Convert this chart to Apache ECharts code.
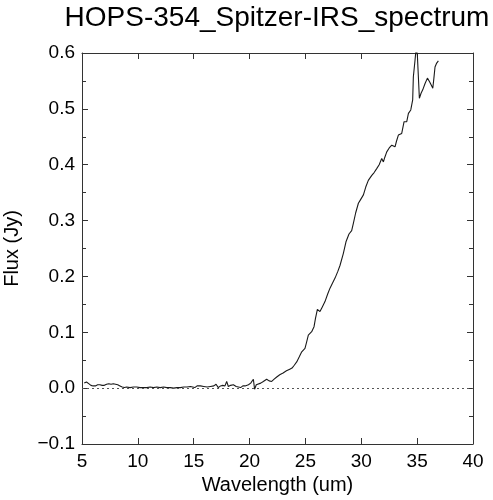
<!DOCTYPE html>
<html>
<head>
<meta charset="utf-8">
<title>HOPS-354 Spitzer IRS spectrum</title>
<script src="https://cdn.jsdelivr.net/npm/echarts@6/dist/echarts.min.js"></script>
<style>
  html, body { margin: 0; padding: 0; background: #fff; }
  #chart { width: 493px; height: 500px; }
</style>
</head>
<body>
<div id="chart"></div>
<script>
// wavelength in um, flux in Jy
const wavelength = [
  5.2, 5.4, 5.6, 5.8, 6.0, 6.2, 6.4, 6.6, 6.8, 7.0, 7.2, 7.4, 7.6, 7.8, 8.0, 8.2, 8.4, 8.6, 8.8, 9.0,
  9.3, 9.6, 9.9, 10.2, 10.5, 10.8, 11.1, 11.4, 11.7, 12.0, 12.3, 12.6, 12.9, 13.2, 13.5, 13.8, 14.1, 14.4, 14.7, 14.9,
  15.1, 15.3, 15.6, 15.9, 16.2, 16.5, 16.8, 17.0, 17.2, 17.4, 17.6, 17.8, 17.95, 18.1, 18.3, 18.55, 18.8, 19.0, 19.2, 19.4,
  19.6, 19.9, 20.1, 20.25, 20.34, 20.45, 20.6, 20.75, 21.0, 21.23, 21.53, 21.75, 21.98, 22.2, 22.43, 22.7, 23.0, 23.3, 23.6, 23.8,
  24.0, 24.22, 24.45, 24.67, 24.96, 25.1, 25.26, 25.56, 25.77, 25.9, 26.07, 26.3, 26.5, 26.75, 27.0, 27.2, 27.45, 27.65, 27.9, 28.1,
  28.39, 28.63, 28.9, 29.14, 29.29, 29.5, 29.74, 29.95, 30.19, 30.4, 30.63, 30.94, 31.15, 31.38, 31.6, 31.83, 31.98, 32.1, 32.28, 32.5,
  32.73, 33.02, 33.15, 33.32, 33.62, 33.83, 34.07, 34.22, 34.43, 34.6, 34.66, 34.81, 34.92, 35.02, 35.2, 35.35, 35.5, 35.7, 35.92, 36.1,
  36.25, 36.4, 36.5, 36.6, 36.75, 36.9
];
const flux = [
  0.009, 0.011, 0.008, 0.005, 0.004, 0.004, 0.006, 0.006, 0.005, 0.005, 0.007, 0.008, 0.007, 0.008, 0.007, 0.006, 0.004, 0.002, 0.001, 0.002,
  0.001, 0.002, 0.002, 0.001, 0.001, 0.001, 0.002, 0.001, 0.002, 0.001, 0.002, 0.001, 0.001, 0.000, 0.001, 0.001, 0.002, 0.002, 0.003, 0.002,
  0.001, 0.004, 0.004, 0.003, 0.002, 0.003, 0.004, 0.007, 0.001, 0.004, 0.005, 0.004, 0.012, 0.003, 0.005, 0.006, 0.003, 0.002, 0.001, 0.004,
  0.004, 0.006, 0.009, 0.012, 0.016, -0.002, 0.006, 0.009, 0.009, 0.012, 0.016, 0.013, 0.012, 0.016, 0.020, 0.024, 0.027, 0.031, 0.034, 0.036,
  0.041, 0.047, 0.056, 0.065, 0.071, 0.082, 0.095, 0.101, 0.110, 0.125, 0.141, 0.137, 0.145, 0.155, 0.169, 0.179, 0.189, 0.197, 0.209, 0.220,
  0.241, 0.262, 0.276, 0.282, 0.295, 0.314, 0.331, 0.338, 0.346, 0.360, 0.372, 0.381, 0.386, 0.393, 0.400, 0.411, 0.405, 0.413, 0.423, 0.430,
  0.435, 0.432, 0.442, 0.453, 0.456, 0.477, 0.477, 0.492, 0.498, 0.516, 0.557, 0.587, 0.610, 0.596, 0.519, 0.528, 0.534, 0.545, 0.555, 0.549,
  0.543, 0.537, 0.555, 0.575, 0.582, 0.586
];

const xTicks = { min: 5, max: 40, interval: 5 };
const yTicks = { min: -0.1, max: 0.6, interval: 0.1 };

const font = "'Liberation Sans', Arial, Helvetica, sans-serif";
const frame = '#333';

function fmtY(v) {
  if (v < 0) return '\u2212' + Math.abs(v).toFixed(1);
  return v.toFixed(1);
}

const chart = echarts.init(document.getElementById('chart'), null, { renderer: 'canvas' });

const xBase = {
  type: 'value',
  min: xTicks.min, max: xTicks.max, interval: xTicks.interval,
  axisLine: { show: true, onZero: false, lineStyle: { color: frame, width: 1 } },
  axisTick: { show: true, inside: true, length: 6, lineStyle: { color: frame } },
  splitLine: { show: false }
};
const yBase = {
  type: 'value',
  min: yTicks.min, max: yTicks.max, interval: yTicks.interval,
  axisLine: { show: true, onZero: false, lineStyle: { color: frame, width: 1 } },
  axisTick: { show: true, inside: true, length: 6, lineStyle: { color: frame } },
  minorTick: { show: true, splitNumber: 2, length: 4, lineStyle: { color: frame } },
  splitLine: { show: false }
};

chart.setOption({
  animation: false,
  title: {
    text: 'HOPS-354_Spitzer-IRS_spectrum',
    left: 272, top: -1, textAlign: 'center',
    textStyle: { fontFamily: font, fontSize: 28, fontWeight: 'normal', color: '#000' }
  },
  grid: { left: 82, right: 20, top: 53, bottom: 56, containLabel: false, outerBoundsMode: 'none' },
  xAxis: [
    Object.assign({}, xBase, {
      position: 'bottom',
      name: 'Wavelength (um)', nameLocation: 'middle', nameGap: 29,
      nameTextStyle: { fontFamily: font, fontSize: 20, color: '#000' },
      axisLabel: { fontFamily: font, fontSize: 19, color: '#000', margin: 8 }
    }),
    Object.assign({}, xBase, { position: 'top', axisLabel: { show: false } })
  ],
  yAxis: [
    Object.assign({}, yBase, {
      position: 'left',
      name: 'Flux (Jy)', nameLocation: 'middle', nameGap: 60, nameRotate: 90,
      nameTextStyle: { fontFamily: font, fontSize: 20, color: '#000' },
      axisLabel: { fontFamily: font, fontSize: 19, color: '#000', margin: 7, formatter: fmtY }
    }),
    Object.assign({}, yBase, { position: 'right', axisLabel: { show: false } })
  ],
  series: [{
    type: 'line',
    data: wavelength.map((w, i) => [w, flux[i]]),
    showSymbol: false,
    clip: true,
    lineStyle: { color: '#1a1a1a', width: 1.1 },
    markLine: {
      silent: true,
      symbol: 'none',
      label: { show: false },
      lineStyle: { color: '#555', width: 1, type: [2, 3] },
      data: [{ yAxis: 0 }]
    }
  }]
});
</script>
</body>
</html>
